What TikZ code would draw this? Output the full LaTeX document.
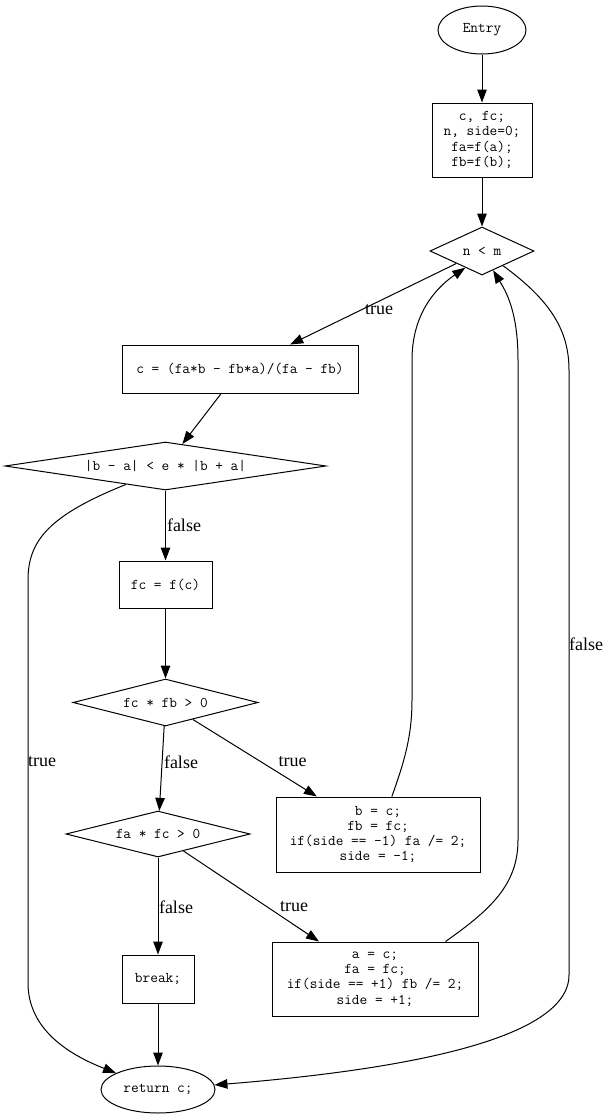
\documentclass[tikz,border=0pt]{standalone}
\usepackage{fontspec}
\setmainfont{Liberation Serif}
\usepackage{tikz}
\usetikzlibrary{arrows.meta,calc,positioning,shapes.geometric}
\tikzset{
  flownode/.style = {align=center, inner sep=2pt, black, draw, line width=1pt,
  font=\fontsize{14.9}{15.3}\selectfont\ttfamily},
  fl_box/.style = {flownode, rectangle},
  fl_dec/.style = {flownode, diamond, aspect=6, inner sep=0pt},
  fl_term/.style = {flownode, ellipse, inner sep=0pt},
  fl_lbl/.style = {inner sep=0pt, font=\fontsize{18}{18}\selectfont}
}

\begin{document}
\begin{tikzpicture}[x=1pt, y=-1pt, line width=1pt, ->,
		>={Triangle[length=13pt,width=9.5pt]}]
		\useasboundingbox (0,0) rectangle (609,1120);
		% blocks
		\node [fl_term, minimum width=88pt, minimum height=48pt] (entry) at (482,30) {Entry};
		\node [fl_box, minimum width=100pt, minimum height=74pt] (init) at (482,140)
		    {c, fc;\\n, side=0;\\fa=f(a);\\fb=f(b);};
		\node [fl_dec, minimum width=104pt, minimum height=48pt] (loop) at (482,251) {n < m};
		\node [fl_box, minimum width=236pt, minimum height=48pt] (secant) at (240,369)
		    {c = (fa*b - fb*a)/(fa - fb)};
		\node [fl_dec, minimum width=321pt, minimum height=48pt] (conv) at (165.5,466)
		    {|b - a| < e * |b + a|};
		\node [fl_box, minimum width=93pt, minimum height=47pt] (evalc) at (165.5,584.5) {fc = f(c)};
		\node [fl_dec, minimum width=185pt, minimum height=47pt] (signb) at (165.5,702.5) {fc * fb > 0};
		\node [fl_dec, minimum width=184pt, minimum height=46pt] (signa) at (158,834) {fa * fc > 0};
		\node [fl_box, minimum width=204pt, minimum height=75pt] (moveb) at (378,834.5)
		    {b = c;\\fb = fc;\\if(side == -1) fa /= 2;\\side = -1;};
		\node [fl_box, minimum width=72pt, minimum height=48pt] (brk) at (158,979) {break;};
		\node [fl_box, minimum width=206pt, minimum height=74pt] (movea) at (375,979)
		    {a = c;\\fa = fc;\\if(side == +1) fb /= 2;\\side = +1;};
		\node [fl_term, minimum width=114pt, minimum height=47pt] (ret) at (158,1089.5) {return c;};
		% edges
		\draw (entry) -- (init);
		\draw (init) -- (loop);
		\draw (loop) -- (secant);
		\draw (secant) -- (conv);
		\draw (conv) -- (evalc);
		\draw (evalc) -- (signb);
		\draw (signb) -- (moveb);
		\draw (signb) -- (signa);
		\draw (signa) -- (movea);
		\draw (signa) -- (brk);
		\draw (brk) -- (ret);
		\draw (conv.-155) .. controls (50,515) and (28,540) .. (28,580) -- (28,983)
		    .. controls (28,1030) and (70,1055) .. (ret);
		\draw (loop.-35) .. controls (550,300) and (569,330) .. (569,370) -- (569,975)
		    .. controls (569,1040) and (400,1070) .. (ret);
		\draw (moveb.70) .. controls (405,760) and (412,735) .. (412,700) -- (412,360)
		    .. controls (412,310) and (440,285) .. (loop.-135);
		\draw (movea.28) .. controls (490,910) and (518,885) .. (518,840) -- (518,360)
		    .. controls (518,310) and (505,290) .. (loop.-60);
		% labels
		\node [fl_lbl] (l_loop_t) at (379,310) {true};
		\node [fl_lbl] (l_loop_f) at (586,644) {false};
		\node [fl_lbl] (l_conv_f) at (184,525) {false};
		\node [fl_lbl] (l_conv_t) at (42,762) {true};
		\node [fl_lbl] (l_signb_f) at (181,762) {false};
		\node [fl_lbl] (l_signb_t) at (292.5,762) {true};
		\node [fl_lbl] (l_signa_f) at (176,907) {false};
		\node [fl_lbl] (l_signa_t) at (294,907) {true};
\end{tikzpicture}
\end{document}
